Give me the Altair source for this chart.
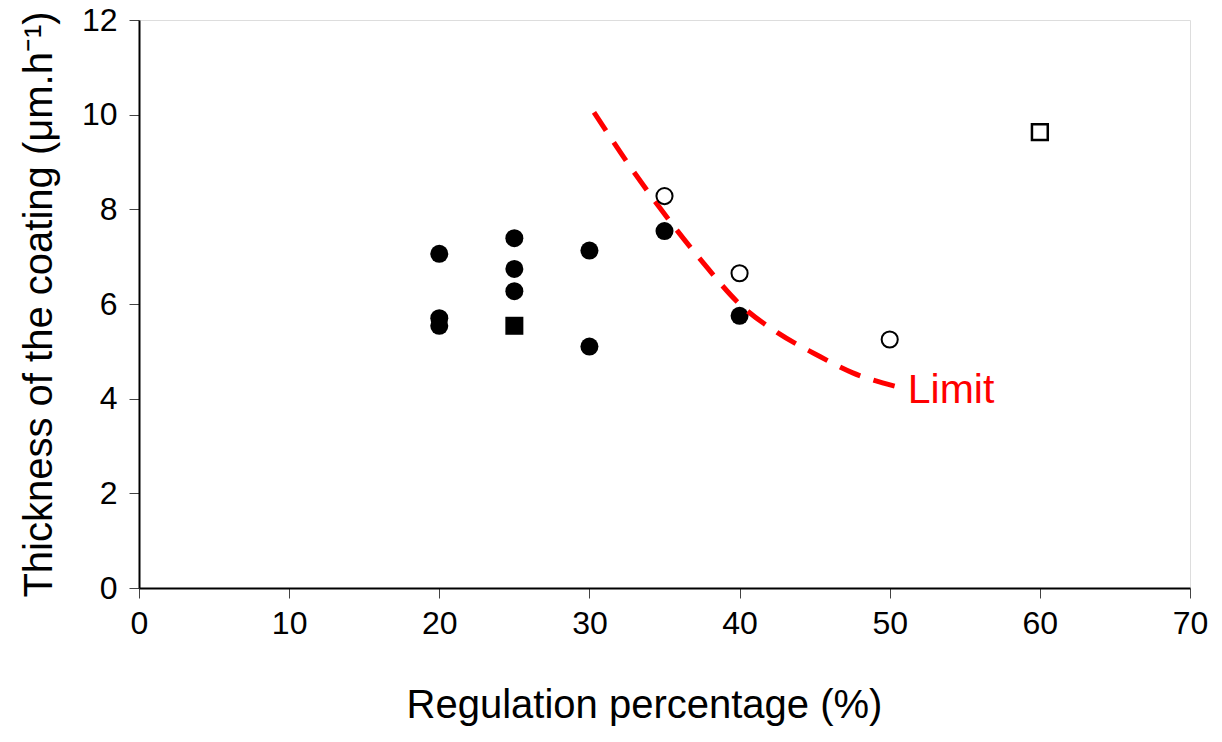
import altair as alt
import pandas as pd

# Filled circles
fc_x = [20, 20, 20, 25, 25, 25, 30, 30, 35, 40]
fc_y = [7.06, 5.70, 5.54, 7.39, 6.74, 6.27, 7.13, 5.10, 7.54, 5.75]
# Filled square
fs_x = [25]
fs_y = [5.54]
# Open circles
oc_x = [35, 40, 50]
oc_y = [8.28, 6.65, 5.25]
# Open square
os_x = [60]
os_y = [9.63]
# Limit curve
lim_x = [30.3, 32.5, 35, 37.5, 40, 42.5, 45, 47.5, 50.5]
lim_y = [10.05, 9.0, 7.9, 6.9, 6.0, 5.4, 4.95, 4.55, 4.25]
# Label
lab_x = [51.2]
lab_y = [3.91]
lab_t = ["Limit"]

FONT = "Liberation Sans"

xs = alt.Scale(domain=[0, 70], nice=False, zero=False)
ys = alt.Scale(domain=[0, 12], nice=False, zero=False)

xax = alt.Axis(values=list(range(0, 71, 10)), title="Regulation percentage (%)", grid=False,
               labelFontSize=32, titleFontSize=40, labelFont=FONT, titleFont=FONT,
               labelColor="black", titleColor="black", titleFontWeight="normal",
               domainColor="black", domainWidth=2, tickColor="#444", tickSize=10, tickWidth=1,
               labelPadding=10, titlePadding=46, labelFlush=False, titleX=505)
yax = alt.Axis(values=list(range(0, 13, 2)), title="Thickness of the coating (μm.h⁻¹)", grid=False,
               labelFontSize=32, titleFontSize=40, labelFont=FONT, titleFont=FONT,
               labelColor="black", titleColor="black", titleFontWeight="normal",
               domainColor="black", domainWidth=2, tickColor="#444", tickSize=10, tickWidth=1,
               labelPadding=12, titlePadding=22, labelFlush=False)

def X(col):
    return alt.X(col + ":Q", scale=xs, axis=xax)

def Y(col):
    return alt.Y(col + ":Q", scale=ys, axis=yax)

d_fc = pd.DataFrame({"x": fc_x, "y": fc_y})
d_fs = pd.DataFrame({"x": fs_x, "y": fs_y})
d_oc = pd.DataFrame({"x": oc_x, "y": oc_y})
d_os = pd.DataFrame({"x": os_x, "y": os_y})
d_lim = pd.DataFrame({"x": lim_x, "y": lim_y})
d_lab = pd.DataFrame({"x": lab_x, "y": lab_y, "t": lab_t})

fc = alt.Chart(d_fc).mark_point(shape="circle", filled=True, size=324, color="black", opacity=1).encode(x=X("x"), y=Y("y"))
fs = alt.Chart(d_fs).mark_point(shape="square", filled=True, size=324, color="black", opacity=1).encode(x=X("x"), y=Y("y"))
line = alt.Chart(d_lim).mark_line(color="#FF0000", strokeWidth=5, strokeDash=[22, 14], interpolate="monotone").encode(x=X("x"), y=Y("y"))
oc = alt.Chart(d_oc).mark_point(shape="circle", filled=False, size=260, stroke="black", fill="white", fillOpacity=1, strokeWidth=2, opacity=1).encode(x=X("x"), y=Y("y"))
osq = alt.Chart(d_os).mark_point(shape="square", filled=False, size=250, stroke="black", fill="white", fillOpacity=1, strokeWidth=2.5, opacity=1).encode(x=X("x"), y=Y("y"))
lab = alt.Chart(d_lab).mark_text(align="left", baseline="alphabetic", font=FONT, fontSize=41, color="#FF0000").encode(x=X("x"), y=Y("y"), text="t:N")

chart = alt.layer(fc, fs, line, oc, osq, lab).properties(
    width=1051, height=568,
    autosize=alt.AutoSizeParams(type="none"),
    padding={"left": 131, "top": 12, "right": 24, "bottom": 140},
).configure_view(stroke="black", strokeWidth=2).configure(background="white")

chart.save("out.html", embed_options={"renderer": "svg", "actions": False})
